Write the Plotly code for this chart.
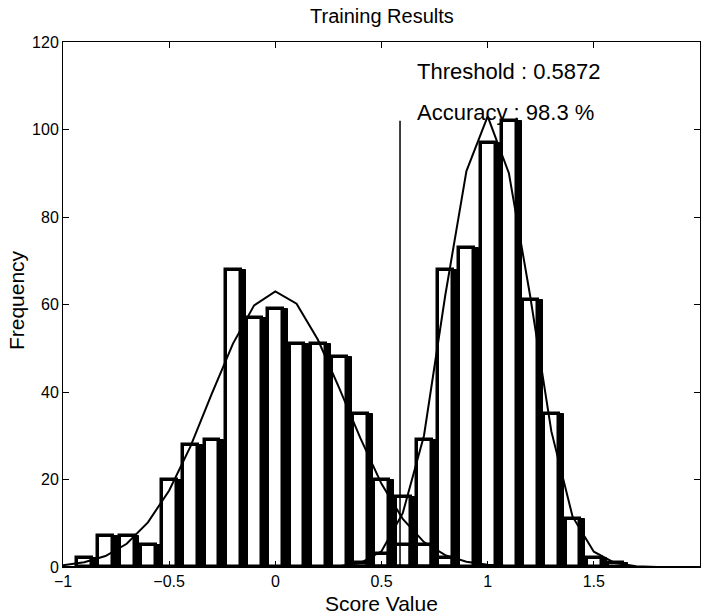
import plotly.graph_objects as go

# ---- data ----
bin_centers = [-0.89, -0.79, -0.69, -0.59, -0.49, -0.39, -0.29, -0.19, -0.09, 0.01,
               0.11, 0.21, 0.31, 0.41, 0.51, 0.61, 0.71, 0.81, 0.91, 1.01,
               1.11, 1.21, 1.31, 1.41, 1.51, 1.61]
class1_counts = [2, 7, 7, 5, 20, 28, 29, 68, 57, 59,
                 51, 51, 48, 35, 20, 5, 5, 2, 0, 0,
                 0, 0, 0, 0, 0, 0]
class2_counts = [0, 0, 0, 0, 0, 0, 0, 0, 0, 0,
                 0, 0, 0, 1, 3, 16, 29, 68, 73, 97,
                 102, 61, 35, 11, 2, 1]

curve_x = [-1.0, -0.9, -0.8, -0.7, -0.6, -0.5, -0.4, -0.3, -0.2, -0.1,
           0.0, 0.1, 0.2, 0.3, 0.4, 0.5, 0.6, 0.7, 0.8, 0.9,
           1.0, 1.1, 1.2, 1.3, 1.4, 1.5, 1.6, 1.7, 1.8, 1.9, 2.0]
class1_fit = [0.4, 1.1, 2.5, 5.3, 10.2, 17.5, 27.5, 39.5, 51, 59.8,
              63, 60.2, 52, 41, 29.5, 19, 11, 5.7, 2.7, 1.2,
              0.5, 0.2, 0.1, 0, 0, 0, 0, 0, 0, 0, 0]
class2_fit = [0, 0, 0, 0, 0, 0, 0, 0, 0, 0,
              0, 0, 0, 0.15, 0.9, 3.6, 12.3, 30, 62, 90.5,
              103, 90, 62, 31, 11.5, 3.5, 0.9, 0.2, 0, 0, 0]

threshold = 0.5872
threshold_line_top = 102
accuracy = 98.3

x_ticks = [-1, -0.5, 0, 0.5, 1, 1.5, 2]
y_ticks = [0, 20, 40, 60, 80, 100, 120]

FONT = "Liberation Sans, Arial, Helvetica, sans-serif"

fig = go.Figure()

BIN = 0.1
for counts in (class1_counts, class2_counts):
    xs = [c for c, h in zip(bin_centers, counts) if h > 0]
    hs = [h for h in counts if h > 0]
    # thick dark right side of each bar
    fig.add_trace(go.Bar(x=xs, y=hs, width=0.024, offset=-BIN / 2 + 0.076,
                         marker=dict(color="black", line=dict(color="black", width=1)),
                         hoverinfo="skip", showlegend=False))
    # outlined bar
    fig.add_trace(go.Bar(x=xs, y=hs, width=0.07, offset=-BIN / 2 + 0.007,
                         marker=dict(color="rgba(0,0,0,0)",
                                     line=dict(color="black", width=3.5)),
                         hoverinfo="skip", showlegend=False))

for fit in (class1_fit, class2_fit):
    fig.add_trace(go.Scatter(x=curve_x, y=fit, mode="lines",
                             line=dict(color="black", width=2),
                             hoverinfo="skip", showlegend=False, cliponaxis=True))

fig.add_trace(go.Scatter(x=[threshold, threshold], y=[0, threshold_line_top],
                         mode="lines", line=dict(color="black", width=1.5),
                         hoverinfo="skip", showlegend=False))

fig.add_annotation(x=0.6566, y=113.3, xref="x", yref="y", xanchor="left",
                   yanchor="middle", showarrow=False,
                   text=f"Threshold : {threshold}",
                   font=dict(family=FONT, size=22, color="black"))
fig.add_annotation(x=0.6566, y=104.0, xref="x", yref="y", xanchor="left",
                   yanchor="middle", showarrow=False,
                   text=f"Accuracy : {accuracy} %",
                   font=dict(family=FONT, size=22, color="black"))

fig.add_annotation(x=0.5, y=1.0495, xref="paper", yref="paper",
                   xanchor="center", yanchor="middle", showarrow=False,
                   text="Training Results",
                   font=dict(family=FONT, size=20, color="black"))
fig.add_annotation(x=0.5, y=-0.0686, xref="paper", yref="paper",
                   xanchor="center", yanchor="middle", showarrow=False,
                   text="Score Value",
                   font=dict(family=FONT, size=21, color="black"))
fig.add_annotation(x=-0.072, y=0.5086, xref="paper", yref="paper",
                   xanchor="center", yanchor="middle", showarrow=False,
                   text="Frequency", textangle=-90,
                   font=dict(family=FONT, size=21, color="black"))

fig.update_layout(
    width=702, height=614,
    margin=dict(l=63, r=2, t=42, b=47),
    paper_bgcolor="white", plot_bgcolor="white",
    barmode="overlay", bargap=0,
    showlegend=False,
    font=dict(family=FONT, color="black"),
)
fig.update_xaxes(range=[-1, 2], tickvals=x_ticks, ticks="inside", ticklen=6,
                 tickcolor="black", showline=True, linecolor="black", linewidth=1,
                 mirror="ticks", showgrid=False, zeroline=False,
                 tickfont=dict(family=FONT, size=16, color="black"))
fig.update_yaxes(range=[0, 120], tickvals=y_ticks, ticks="inside", ticklen=6,
                 tickcolor="black", showline=True, linecolor="black", linewidth=1,
                 mirror="ticks", showgrid=False, zeroline=False,
                 tickfont=dict(family=FONT, size=16, color="black"))

fig.write_html("out.html")
